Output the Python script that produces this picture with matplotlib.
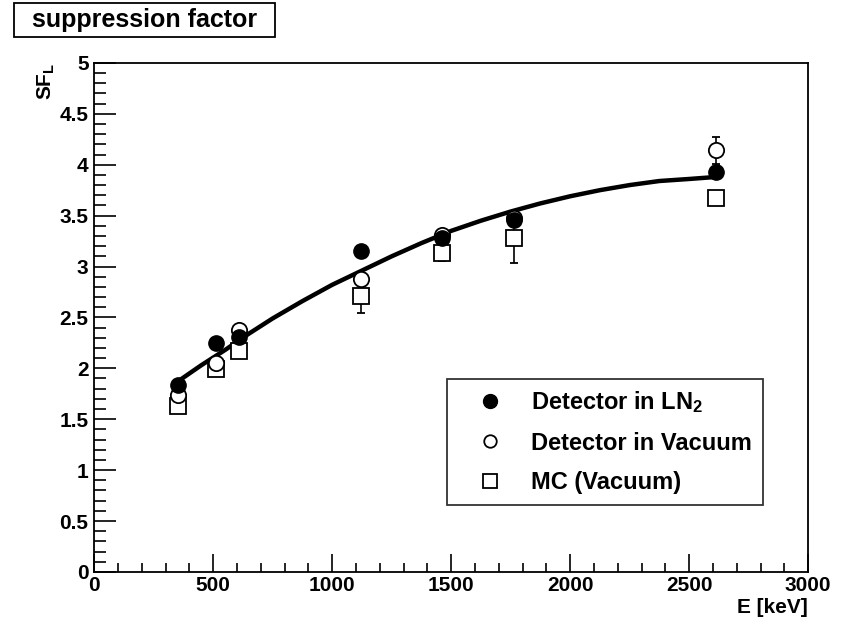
import matplotlib
matplotlib.use("Agg")
from matplotlib import pyplot as plt
from matplotlib.ticker import MultipleLocator
from matplotlib.lines import Line2D
from matplotlib.patches import Rectangle

plt.rcParams['font.family'] = ['Liberation Sans', 'DejaVu Sans']
plt.rcParams['font.weight'] = 'bold'
plt.rcParams['mathtext.fontset'] = 'custom'
plt.rcParams['mathtext.rm'] = 'Liberation Sans:bold'
plt.rcParams['mathtext.it'] = 'Liberation Sans:bold'
plt.rcParams['mathtext.bf'] = 'Liberation Sans:bold'

# gamma line energies (keV)
energy = [351, 511, 609, 1120, 1460, 1764, 2614]

# suppression factor, detector in LN2
sf_ln2 = [1.84, 2.25, 2.31, 3.15, 3.28, 3.46, 3.93]
err_ln2 = [0.04, 0.04, 0.04, 0.06, 0.05, 0.06, 0.06]

# detector in vacuum
sf_vac = [1.74, 2.05, 2.38, 2.88, 3.31, 3.48, 4.14]
err_vac = [0.04, 0.04, 0.05, 0.06, 0.05, 0.06, 0.13]

# MC (vacuum)
sf_mc = [1.63, 1.99, 2.17, 2.71, 3.13, 3.28, 3.67]
err_mc = [0.04, 0.04, 0.05, 0.17, 0.08, 0.25, 0.05]

# fit curve
fit_e = [351, 450, 550, 650, 750, 875, 1000, 1125, 1250, 1375, 1500, 1625,
         1750, 1875, 2000, 2125, 2250, 2375, 2500, 2614]
fit_sf = [1.87, 2.03, 2.18, 2.34, 2.49, 2.66, 2.82, 2.96, 3.10, 3.23, 3.35, 3.45,
          3.54, 3.62, 3.69, 3.75, 3.80, 3.84, 3.86, 3.88]

fig = plt.figure(figsize=(8.48, 6.23), dpi=100)
ax = fig.add_axes([0.111, 0.082, 0.842, 0.817])

ax.plot(fit_e, fit_sf, color='black', lw=3.2, zorder=2, solid_capstyle='butt')

ax.errorbar(energy, sf_mc, yerr=err_mc, fmt='s', ms=11.5, mfc='white', mec='black',
            mew=1.3, ecolor='black', elinewidth=1.2, capsize=3, zorder=3)
ax.errorbar(energy, sf_vac, yerr=err_vac, fmt='o', ms=11, mfc='white', mec='black',
            mew=1.3, ecolor='black', elinewidth=1.2, capsize=3, zorder=4)
ax.errorbar(energy, sf_ln2, yerr=err_ln2, fmt='o', ms=11, mfc='black', mec='black',
            ecolor='black', elinewidth=1.2, capsize=3, zorder=5)

ax.set_xlim(0, 3000)
ax.set_ylim(0, 5)
ax.xaxis.set_major_locator(MultipleLocator(500))
ax.xaxis.set_minor_locator(MultipleLocator(100))
ax.yaxis.set_major_locator(MultipleLocator(0.5))
ax.yaxis.set_minor_locator(MultipleLocator(0.1))
ax.yaxis.set_major_formatter(plt.FuncFormatter(lambda v, p: '%g' % v))

ax.tick_params(axis='y', which='major', direction='in', length=16, width=1.2, labelsize=15, pad=4)
ax.tick_params(axis='y', which='minor', direction='in', length=8.5, width=1.2)
ax.tick_params(axis='x', which='major', direction='in', length=13, width=1.2, labelsize=15, pad=3)
ax.tick_params(axis='x', which='minor', direction='in', length=6.5, width=1.2)
for s in ax.spines.values():
    s.set_linewidth(1.3)

handles = [
    Line2D([], [], ls='none', marker='o', ms=10, mfc='black', mec='black'),
    Line2D([], [], ls='none', marker='o', ms=9, mfc='white', mec='black', mew=1.3),
    Line2D([], [], ls='none', marker='s', ms=10, mfc='white', mec='black', mew=1.3),
]
labels = ['Detector in LN$_2$', 'Detector in Vacuum', 'MC (Vacuum)']
leg = ax.legend(handles, labels, loc='lower left', bbox_to_anchor=(0.494, 0.132, 0.443, 0.241),
                mode='expand', fontsize=17, frameon=True, fancybox=False, edgecolor='black',
                handlelength=2.75, handletextpad=0.35, labelspacing=0.7, borderpad=0.45,
                borderaxespad=0)
leg.get_frame().set_linewidth(1.3)

# title box
fig.patches.append(Rectangle((0.0165, 0.9406), 0.3078, 0.0546, transform=fig.transFigure,
                             fc='white', ec='black', lw=1.3))
fig.text(0.171, 0.968, 'suppression factor', fontsize=18, ha='center', va='center')
fig.text(0.055, 0.87, 'SF$_L$', rotation=90, fontsize=15, ha='center', va='center')
fig.text(0.952, 0.025, 'E [keV]', fontsize=15, ha='right', va='center')

fig.savefig('out.png', dpi=100)
